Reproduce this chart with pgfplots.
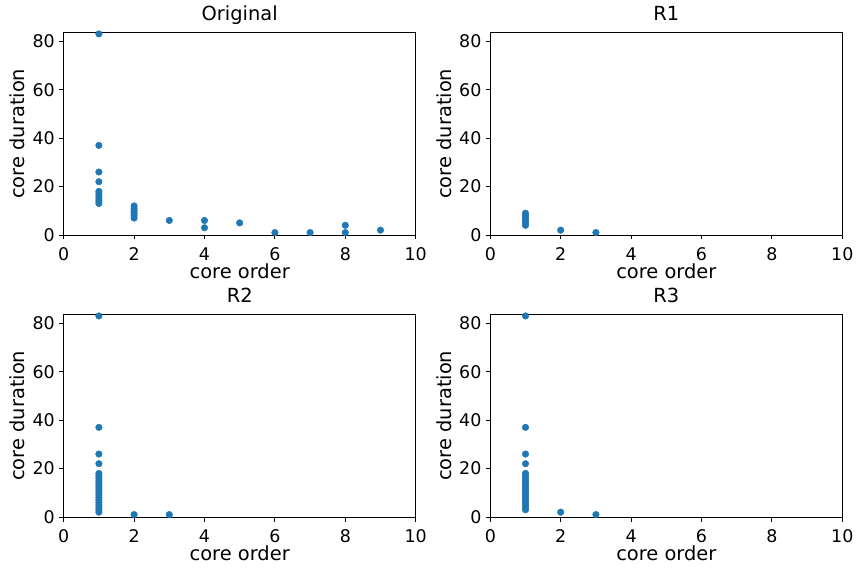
\documentclass[border=0pt]{standalone}
\usepackage{fontspec}
\setmainfont{DejaVu Sans}
\usepackage{pgfplots}
\pgfplotsset{compat=1.18}
\definecolor{mplblue}{RGB}{31,119,180}
\pgfplotsset{
  pts/.style={only marks, mark=*, mark size=3.3bp, color=mplblue, mark options={solid, draw=mplblue, fill=mplblue}},
  mystyle/.style={
    scale only axis,
    width=352bp, height=202.5bp,
    xmin=0, xmax=10, ymin=0, ymax=83.6,
    xtick={0,2,4,6,8,10},
    ytick={0,20,40,60,80},
    xtick pos=bottom, ytick pos=left,
    tick align=outside,
    major tick length=4.5bp,
    every tick/.style={black, line width=0.9bp},
    axis line style={line width=0.9bp},
    /pgf/number format/assume math mode=true,
    tick label style={font=\fontsize{17.5}{21}\selectfont},
    xticklabel style={anchor=base, yshift=-20.7bp},
    yticklabel style={anchor=east, inner sep=0pt, xshift=-8.7bp+4.5bp},
    label style={font=\fontsize{19.5}{23}\selectfont},
    xlabel style={at={(axis description cs:0.5,-0.2138)}, anchor=base},
    ylabel style={at={(axis description cs:-0.1108,0.5)}, anchor=base, rotate=0},
    title style={at={(axis description cs:0.5,1.0296)}, anchor=base, font=\fontsize{19.5}{23}\selectfont},
    xlabel={core order}, ylabel={core duration},
  }
}
\begin{document}
\begin{tikzpicture}
\path[use as bounding box] (0,0) rectangle (864bp,576bp);
\begin{axis}[mystyle, at={(63.7bp,341bp)}, anchor=south west, title={Original}]
\addplot[pts] coordinates {
(1,83) (1,37) (1,26) (1,22) (1,18) (1,17) (1,16) (1,15) (1,14) (1,13)
(2,12) (2,11) (2,10) (2,9) (2,8) (2,7)
(3,6) (4,6) (4,3) (5,5) (6,1) (7,1) (8,4) (8,1) (9,2)
};
\end{axis}
\begin{axis}[mystyle, at={(490.3bp,341bp)}, anchor=south west, title={R1}]
\addplot[pts] coordinates {
(1,9) (1,8) (1,7) (1,6) (1,5) (1,4)
(2,2) (3,1)
};
\end{axis}
\begin{axis}[mystyle, at={(63.7bp,59bp)}, anchor=south west, title={R2}]
\addplot[pts] coordinates {
(1,83) (1,37) (1,26) (1,22) (1,18) (1,17) (1,16) (1,15) (1,14) (1,13) (1,12) (1,11) (1,10) (1,9) (1,8) (1,7) (1,6) (1,5) (1,4) (1,3) (1,2)
(2,1) (3,1)
};
\end{axis}
\begin{axis}[mystyle, at={(490.3bp,59bp)}, anchor=south west, title={R3}]
\addplot[pts] coordinates {
(1,83) (1,37) (1,26) (1,22) (1,18) (1,17) (1,16) (1,15) (1,14) (1,13) (1,12) (1,11) (1,10) (1,9) (1,8) (1,7) (1,6) (1,5) (1,4) (1,3)
(2,2) (3,1)
};
\end{axis}
\end{tikzpicture}
\end{document}
